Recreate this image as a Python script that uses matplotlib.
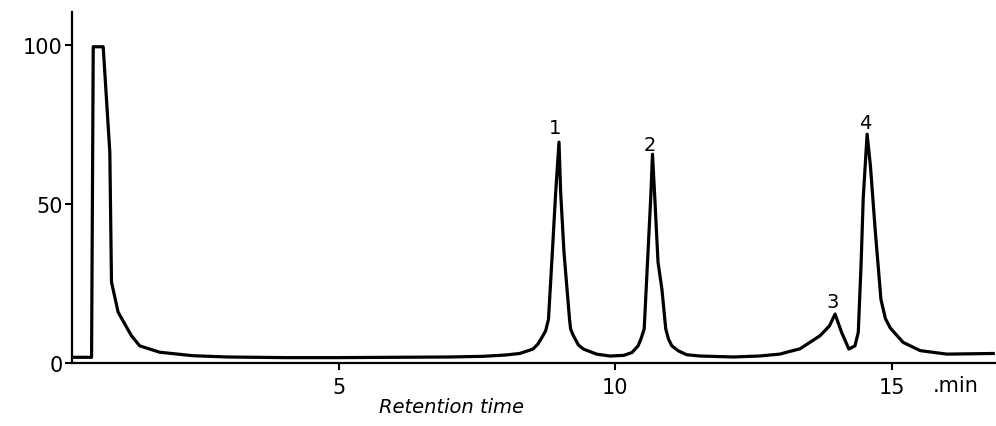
import matplotlib.pyplot as plt

# chromatogram trace (min, relative signal)
time_min = [0.19, 0.53, 0.56, 0.74, 0.86, 0.89, 1.01, 1.25, 1.40, 1.76,
            2.36, 2.98, 4.0, 5.0, 6.0, 7.0, 7.6, 8.0, 8.27, 8.51,
            8.60, 8.69, 8.74, 8.79, 8.86, 8.92, 8.98, 9.01, 9.07, 9.17,
            9.19, 9.24, 9.33, 9.42, 9.66, 9.9, 10.15, 10.30, 10.41, 10.46,
            10.52, 10.58, 10.64, 10.67, 10.71, 10.77, 10.84, 10.91, 10.96, 11.02,
            11.14, 11.29, 11.53, 12.13, 12.6, 12.97, 13.34, 13.70, 13.87, 13.97,
            14.09, 14.22, 14.33, 14.39, 14.44, 14.48, 14.55, 14.61, 14.70, 14.80,
            14.88, 14.97, 15.2, 15.51, 15.99, 16.4, 16.83]
signal = [1.8, 1.8, 99.5, 99.5, 66.3, 25.5, 16.0, 8.6, 5.4, 3.4,
          2.3, 1.9, 1.7, 1.7, 1.8, 1.9, 2.1, 2.5, 3.0, 4.4,
          6.0, 8.6, 10.2, 13.8, 34.9, 53.7, 69.5, 53.7, 34.9, 13.8,
          10.7, 8.6, 5.7, 4.4, 2.8, 2.2, 2.4, 3.3, 5.4, 7.5,
          10.7, 31.7, 52.6, 65.7, 52.6, 31.7, 23.3, 10.7, 7.5, 5.4,
          3.8, 2.6, 2.2, 1.9, 2.2, 2.8, 4.5, 8.6, 11.7, 15.4,
          9.6, 4.4, 5.4, 9.6, 30.6, 52.0, 72.0, 62.0, 41.0, 20.0,
          14.0, 11.0, 6.5, 3.9, 2.8, 2.9, 3.0]

peak_labels = ['1', '2', '3', '4']
peak_time = [8.91, 10.62, 13.92, 14.51]
peak_label_y = [74.2, 68.9, 19.2, 75.8]

xticks = [5, 10, 15]
yticks = [0, 50, 100]

fig = plt.figure(figsize=(9.96, 4.27), dpi=100)
ax = fig.add_axes([0.0725, 0.1475, 0.9275, 0.8225])

ax.plot(time_min, signal, color='black', lw=2.3, solid_joinstyle='round')

for lab, t, y in zip(peak_labels, peak_time, peak_label_y):
    ax.text(t, y, lab, ha='center', va='center', fontsize=14)

ax.set_xlim(0.18, 16.88)
ax.set_ylim(0, 110.5)
ax.set_xticks(xticks)
ax.set_yticks(yticks)
ax.tick_params(axis='both', direction='out', length=5, width=1.5, labelsize=15)
ax.tick_params(axis='x', pad=5)
ax.tick_params(axis='y', pad=2)

for side in ['top', 'right']:
    ax.spines[side].set_visible(False)
for side in ['left', 'bottom']:
    ax.spines[side].set_linewidth(1.6)

ax.text(0.932, -0.062, '.min', transform=ax.transAxes, fontsize=15, va='center', ha='left')
fig.text(0.4535, 0.045, 'Retention time', fontsize=14, ha='center', va='center', style='italic')

fig.savefig('out.png', dpi=100)
